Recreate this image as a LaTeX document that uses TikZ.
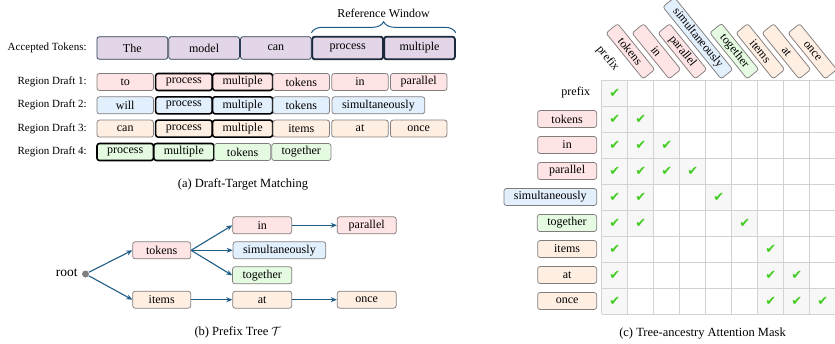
\documentclass[tikz,border=0pt]{standalone}
\usepackage{fontspec}
\setmainfont{Liberation Serif}
\newfontfamily\chkfont{DejaVu Sans}
\usetikzlibrary{arrows.meta,decorations.pathreplacing,calc}

\definecolor{purplefill}{RGB}{225,213,231}
\definecolor{pinkfill}{RGB}{255,228,230}
\definecolor{bluefill}{RGB}{226,239,252}
\definecolor{peachfill}{RGB}{255,239,227}
\definecolor{greenfill}{RGB}{228,251,226}
\definecolor{boxline}{RGB}{130,125,125}
\definecolor{accline}{RGB}{45,62,84}
\definecolor{navyline}{RGB}{25,40,58}
\definecolor{treeblue}{RGB}{31,92,133}
\definecolor{checkgreen}{RGB}{68,204,34}
\definecolor{gridline}{RGB}{210,210,210}
\definecolor{cellfill}{RGB}{247,247,247}

\tikzset{every picture/.style={line width=0.75pt}}
\tikzset{
  tokbox/.style={draw=boxline, rounded corners=2.5pt, minimum height=17pt, minimum width=56.5pt, inner xsep=10pt, inner ysep=1pt, font=\fontsize{12}{14}\selectfont},
  accbox/.style={tokbox, draw=accline, fill=purplefill, minimum width=70.8pt, minimum height=22.6pt},
  hitbox/.style={draw=black, line width=1.6pt},
  refbox/.style={draw=navyline, line width=1.8pt},
  rowlabel/.style={anchor=east, inner sep=0pt, font=\fontsize{11}{13}\selectfont},
  caption/.style={font=\fontsize{12.5}{15}\selectfont},
  treearrow/.style={draw=treeblue, line width=1.1pt, -{Stealth[length=6pt,width=5pt]}},
  maskcell/.style={minimum size=26pt, inner sep=0pt, fill=cellfill, text=checkgreen, font=\chkfont\fontsize{13}{15}\selectfont},
  collabel/.style={tokbox, minimum width=59pt, minimum height=15pt, inner ysep=0pt, rotate=-51, anchor=east},
}
\newcommand{\ck}{\char"2714}

\begin{document}
\begin{tikzpicture}[x=1pt,y=1pt,yscale=-1,xscale=1]
\useasboundingbox (0,0) rectangle (835,343);

% (a) Draft-Target Matching
\node[rowlabel] (lblacc) at (87,48) {Accepted Tokens:};
\node[accbox] (accThe) at (132.3,48) {The};
\node[accbox] (accModel) at (204.1,48) {model};
\node[accbox] (accCan) at (275.9,48) {can};
\node[accbox, refbox] (accProcess) at (347.7,48) {process};
\node[accbox, refbox] (accMultiple) at (419.5,48) {multiple};
% Reference window
\draw[treeblue, line width=1pt, decorate, decoration={brace, amplitude=11pt}] ($(accProcess.north west)+(0,-3)$) -- ($(accMultiple.north east)+(0,-3)$);
\node[font=\fontsize{12}{14}\selectfont] (refwin) at (383.5,13) {Reference Window};

\node[rowlabel] (lbld1) at (87,82) {Region Draft 1:};
\node[tokbox, fill=pinkfill] (d1to) at (125.2,82) {to};
\node[tokbox, fill=pinkfill, hitbox] (d1process) at (183.9,82) {process};
\node[tokbox, fill=pinkfill, hitbox] (d1multiple) at (242.6,82) {multiple};
\node[tokbox, fill=pinkfill] (d1tokens) at (301.3,82) {tokens};
\node[tokbox, fill=pinkfill] (d1in) at (360,82) {in};
\node[tokbox, fill=pinkfill] (d1parallel) at (418.7,82) {parallel};

\node[rowlabel] (lbld2) at (87,105.3) {Region Draft 2:};
\node[tokbox, fill=bluefill] (d2will) at (125.2,105.3) {will};
\node[tokbox, fill=bluefill, hitbox] (d2process) at (183.9,105.3) {process};
\node[tokbox, fill=bluefill, hitbox] (d2multiple) at (242.6,105.3) {multiple};
\node[tokbox, fill=bluefill] (d2tokens) at (301.3,105.3) {tokens};
\node[tokbox, fill=bluefill, anchor=west] (d2simul) at (331.7,105.3) {simultaneously};

\node[rowlabel] (lbld3) at (87,128.6) {Region Draft 3:};
\node[tokbox, fill=peachfill] (d3can) at (125.2,128.6) {can};
\node[tokbox, fill=peachfill, hitbox] (d3process) at (183.9,128.6) {process};
\node[tokbox, fill=peachfill, hitbox] (d3multiple) at (242.6,128.6) {multiple};
\node[tokbox, fill=peachfill] (d3items) at (301.3,128.6) {items};
\node[tokbox, fill=peachfill] (d3at) at (360,128.6) {at};
\node[tokbox, fill=peachfill] (d3once) at (418.7,128.6) {once};

\node[rowlabel] (lbld4) at (87,152) {Region Draft 4:};
\node[tokbox, fill=greenfill, hitbox] (d4process) at (125.2,152) {process};
\node[tokbox, fill=greenfill, hitbox] (d4multiple) at (183.9,152) {multiple};
\node[tokbox, fill=greenfill] (d4tokens) at (242.6,152) {tokens};
\node[tokbox, fill=greenfill] (d4together) at (301.3,152) {together};

\node[caption] (capa) at (243,184) {(a) Draft-Target Matching};

% (b) Prefix Tree
\node[anchor=east, inner sep=0pt, font=\fontsize{13.5}{16}\selectfont] (rootlabel) at (78,273) {root};
\node[circle, fill=gray, minimum size=7pt, inner sep=0pt] (root) at (85.5,274) {};
\node[tokbox, fill=pinkfill, minimum width=58pt] (ttokens) at (161.7,250.3) {tokens};
\node[tokbox, fill=peachfill, minimum width=58pt] (titems) at (161.7,299.7) {items};
\node[tokbox, fill=pinkfill, minimum width=59pt] (tin) at (262.2,225.3) {in};
\node[tokbox, fill=bluefill, anchor=west] (tsimul) at (232.7,250.3) {simultaneously};
\node[tokbox, fill=greenfill, minimum width=59pt] (ttogether) at (262.2,275.3) {together};
\node[tokbox, fill=peachfill, minimum width=59pt] (tat) at (262.2,299.7) {at};
\node[tokbox, fill=pinkfill, minimum width=59pt] (tparallel) at (366.7,225.3) {parallel};
\node[tokbox, fill=peachfill, minimum width=59pt] (tonce) at (366.7,299.7) {once};
% Connection
\draw[treearrow] (root) -- (ttokens.west);
\draw[treearrow] (root) -- (titems.west);
\draw[treearrow] (ttokens.east) -- (tin.west);
\draw[treearrow] (ttokens.east) -- (tsimul.west);
\draw[treearrow] (ttokens.east) -- (ttogether.west);
\draw[treearrow] (tin.east) -- (tparallel.west);
\draw[treearrow] (titems.east) -- (tat.west);
\draw[treearrow] (tat.east) -- (tonce.west);

\node[caption] (capb) at (237.8,332.7) {(b) Prefix Tree $\mathcal{T}$};

% (c) Tree-ancestry Attention Mask
% Text Node
\node[maskcell] (m11) at (614.7,93) {\ck};
\node[maskcell] (m21) at (614.7,119) {\ck};
\node[maskcell] (m22) at (640.7,119) {\ck};
\node[maskcell] (m31) at (614.7,145) {\ck};
\node[maskcell] (m32) at (640.7,145) {\ck};
\node[maskcell] (m33) at (666.7,145) {\ck};
\node[maskcell] (m41) at (614.7,171) {\ck};
\node[maskcell] (m42) at (640.7,171) {\ck};
\node[maskcell] (m43) at (666.7,171) {\ck};
\node[maskcell] (m44) at (692.7,171) {\ck};
\node[maskcell] (m51) at (614.7,197) {\ck};
\node[maskcell] (m52) at (640.7,197) {\ck};
\node[maskcell] (m55) at (718.7,197) {\ck};
\node[maskcell] (m61) at (614.7,223) {\ck};
\node[maskcell] (m62) at (640.7,223) {\ck};
\node[maskcell] (m66) at (744.7,223) {\ck};
\node[maskcell] (m71) at (614.7,249) {\ck};
\node[maskcell] (m77) at (770.7,249) {\ck};
\node[maskcell] (m81) at (614.7,275) {\ck};
\node[maskcell] (m87) at (770.7,275) {\ck};
\node[maskcell] (m88) at (796.7,275) {\ck};
\node[maskcell] (m91) at (614.7,301) {\ck};
\node[maskcell] (m97) at (770.7,301) {\ck};
\node[maskcell] (m98) at (796.7,301) {\ck};
\node[maskcell] (m99) at (822.7,301) {\ck};
% grid
\foreach \k in {0,...,9} {
  \draw[gridline, line width=1pt] (601.7+26*\k,80) -- +(0,234);
  \draw[gridline, line width=1pt] (601.7,80+26*\k) -- +(234,0);
}

% row labels
\node[anchor=east, inner sep=0pt, font=\fontsize{12}{14}\selectfont] (rprefix) at (590.5,93) {prefix};
\node[tokbox, fill=pinkfill, minimum width=59pt, anchor=east] (rtokens) at (597,119) {tokens};
\node[tokbox, fill=pinkfill, minimum width=59pt, anchor=east] (rin) at (597,145) {in};
\node[tokbox, fill=pinkfill, minimum width=59pt, anchor=east] (rparallel) at (597,171) {parallel};
\node[tokbox, fill=bluefill, minimum width=59pt, anchor=east] (rsimul) at (597,197) {simultaneously};
\node[tokbox, fill=greenfill, minimum width=59pt, anchor=east] (rtogether) at (597,223) {together};
\node[tokbox, fill=peachfill, minimum width=59pt, anchor=east] (ritems) at (597,249) {items};
\node[tokbox, fill=peachfill, minimum width=59pt, anchor=east] (rat) at (597,275) {at};
\node[tokbox, fill=peachfill, minimum width=59pt, anchor=east] (ronce) at (597,301) {once};

% column labels
\node[anchor=east, inner sep=0pt, rotate=-51, font=\fontsize{12}{14}\selectfont] (cprefix) at (617,70) {prefix};
\node[collabel, fill=pinkfill] (ctokens) at (649.2,74.5) {tokens};
\node[collabel, fill=pinkfill] (cin) at (675.2,74.5) {in};
\node[collabel, fill=pinkfill] (cparallel) at (701.2,74.5) {parallel};
\node[collabel, fill=bluefill] (csimul) at (727.2,74.5) {simultaneously};
\node[collabel, fill=greenfill] (ctogether) at (753.2,74.5) {together};
\node[collabel, fill=peachfill] (citems) at (779.2,74.5) {items};
\node[collabel, fill=peachfill] (cat) at (805.2,74.5) {at};
\node[collabel, fill=peachfill] (conce) at (831.2,74.5) {once};

\node[caption] (capc) at (702.5,333.3) {(c) Tree-ancestry Attention Mask};

\end{tikzpicture}
\end{document}
